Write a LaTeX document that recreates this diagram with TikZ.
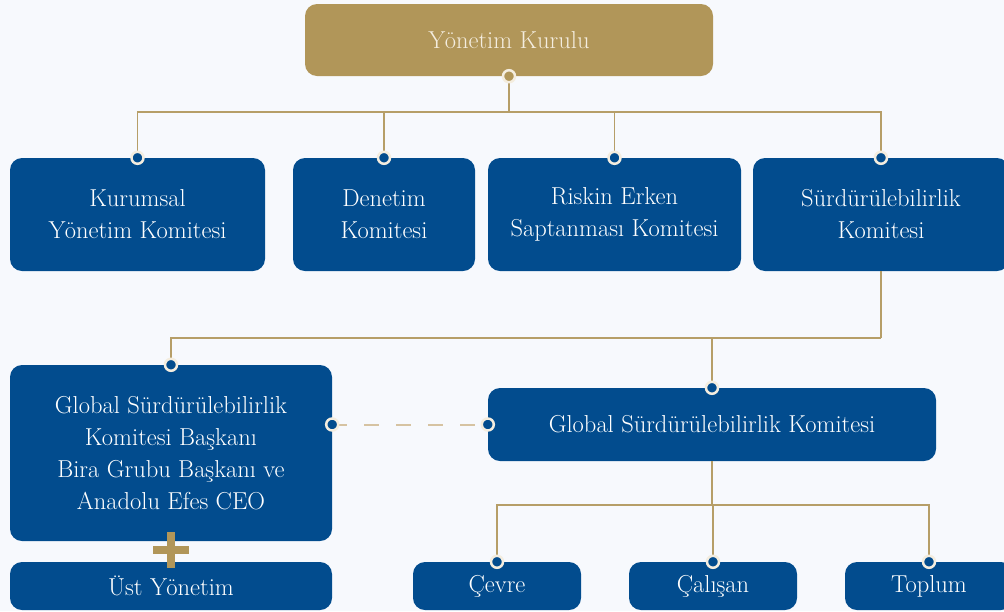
\documentclass[tikz,border=0pt]{standalone}
\usepackage{tikz}
\usetikzlibrary{positioning}

\definecolor{ekblue}{HTML}{024C8E}
\definecolor{ekgold}{HTML}{B19659}
\definecolor{ekline}{HTML}{B69E68}
\definecolor{ekdash}{HTML}{D6C3A2}
\definecolor{ekcream}{HTML}{F4EDDF}
\definecolor{ekbg}{HTML}{F7F9FD}

\begin{document}
\begin{tikzpicture}[x=1pt,y=-1pt,
    every node/.style={font=\fontsize{24.5}{32}\selectfont},
    bluebox/.style={rectangle, rounded corners=12pt, fill=ekblue, text=white,
                    align=center, inner sep=0pt},
    goldbox/.style={rectangle, rounded corners=12pt, fill=ekgold, text=ekcream,
                    align=center, inner sep=0pt},
    link/.style={draw=ekline, line width=1.3pt},
    dashlink/.style={draw=ekdash, line width=2pt, dash pattern=on 15pt off 17pt},
    dot/.style={circle, fill=ekblue, draw=ekcream, line width=2.5pt, inner sep=0pt,
                minimum size=12pt},
    golddot/.style={dot, fill=ekgold},
    plusmark/.style={draw=ekgold, line width=8pt}]

  % background and frame
  \fill[ekbg] (0,0) rectangle (1004,611);
  \useasboundingbox (0,0) rectangle (1004,611);

  % board
  \node[goldbox, minimum width=408pt, minimum height=72pt] (kurul) at (509,40) {Yönetim Kurulu};

  % committees
  \node[bluebox, minimum width=255pt, minimum height=113pt] (kurumsal) at (137.5,214.5) {Kurumsal\\Yönetim Komitesi};
  \node[bluebox, minimum width=182pt, minimum height=113pt] (denetim)  at (384,214.5)   {Denetim\\Komitesi};
  \node[bluebox, minimum width=253pt, minimum height=113pt] (riskin)   at (614.5,214.5) {Riskin Erken\\Saptanması Komitesi};
  \node[bluebox, minimum width=256pt, minimum height=113pt] (surdur)   at (881,214.5)   {Sürdürülebilirlik\\Komitesi};

  % sustainability level
  \node[bluebox, minimum width=322pt, minimum height=176pt] (baskan) at (171,453)
       {Global Sürdürülebilirlik\\Komitesi Başkanı\\Bira Grubu Başkanı ve\\Anadolu Efes CEO};
  \node[bluebox, minimum width=448pt, minimum height=73pt] (gsk) at (712,424.5) {Global Sürdürülebilirlik Komitesi};
  \node[bluebox, minimum width=322pt, minimum height=48pt] (ust) at (171,586) {Üst Yönetim};

  % working groups
  \node[bluebox, minimum width=168pt, minimum height=48pt] (cevre)   at (497,586) {Çevre};
  \node[bluebox, minimum width=168pt, minimum height=48pt] (calisan) at (713,586) {Çalışan};
  \node[bluebox, minimum width=168pt, minimum height=48pt] (toplum)  at (929,586) {Toplum};

  % connectors
  \coordinate (bus1) at (509,112);
  \coordinate (bus2) at (881,338);
  \coordinate (bus3) at (712,505);

  \draw[link] (kurul.south) -- (bus1);
  \draw[link] (kurumsal.north) |- (bus1);
  \draw[link] (denetim.north)  |- (bus1);
  \draw[link] (riskin.north)   |- (bus1);
  \draw[link] (surdur.north)   |- (bus1);

  \draw[link] (surdur.south) -- (bus2);
  \draw[link] (baskan.north) |- (bus2);
  \draw[link] (gsk.north)    |- (bus2);

  \draw[link] (gsk.south) -- (bus3);
  \draw[link] (cevre.north)   |- (bus3);
  \draw[link] (calisan.north) |- (bus3);
  \draw[link] (toplum.north)  |- (bus3);

  \coordinate (dashend) at (gsk.west -| baskan.east);
  \draw[dashlink] (dashend) -- (gsk.west);

  % plus between boxes
  \coordinate (plus) at (171,550);
  \draw[plusmark] ([xshift=-18pt]plus) -- ([xshift=18pt]plus)
                  ([yshift=-18pt]plus) -- ([yshift=18pt]plus);

  % end dots
  \node[golddot] at (kurul.south) {};
  \foreach \n in {kurumsal,denetim,riskin,surdur,baskan,gsk,cevre,calisan,toplum}
    \node[dot] at (\n.north) {};
  \node[dot] at (dashend) {};
  \node[dot] at (gsk.west) {};

\end{tikzpicture}
\end{document}
